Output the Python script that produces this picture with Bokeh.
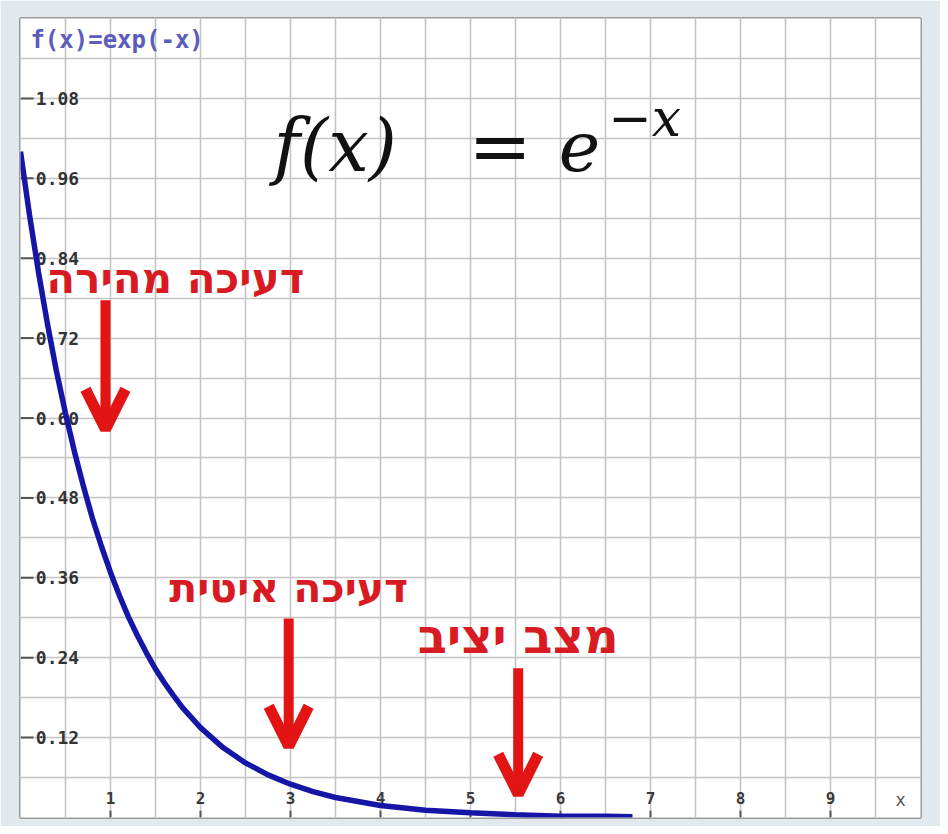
from bokeh.plotting import figure
from bokeh.models import Arrow, OpenHead, FixedTicker, BoxAnnotation, ColumnDataSource
from bokeh.core.properties import value
from bokeh.embed import file_html
from bokeh.resources import INLINE
import numpy as np

# ---- data ----
curve_x = [0.0, 0.1, 0.2, 0.3, 0.4, 0.5, 0.6, 0.7, 0.8, 0.9, 1.0, 1.1, 1.2, 1.3, 1.4,
           1.5, 1.6, 1.7, 1.8, 1.9, 2.0, 2.25, 2.5, 2.75, 3.0, 3.25, 3.5, 3.75, 4.0,
           4.5, 5.0, 5.5, 6.0, 6.5, 6.8]
curve_y = [1.000, 0.905, 0.819, 0.741, 0.670, 0.607, 0.549, 0.497, 0.449, 0.407, 0.368,
           0.333, 0.301, 0.273, 0.247, 0.223, 0.202, 0.183, 0.165, 0.150, 0.135, 0.105,
           0.082, 0.064, 0.050, 0.039, 0.030, 0.024, 0.018, 0.011, 0.007, 0.004, 0.002,
           0.002, 0.001]

x_ticks = [1, 2, 3, 4, 5, 6, 7, 8, 9]
x_tick_labels = ["1", "2", "3", "4", "5", "6", "7", "8", "9"]
y_ticks = [0.12, 0.24, 0.36, 0.48, 0.60, 0.72, 0.84, 0.96, 1.08]
y_tick_labels = ["0.12", "0.24", "0.36", "0.48", "0.60", "0.72", "0.84", "0.96", "1.08"]

title_text = "f(x)=exp(-x)"
annot_texts = ["דעיכה מהירה", "דעיכה איטית", "מצב יציב"]
annot_text_x = [1.72, 2.98, 5.53]
annot_text_y = [0.81, 0.344, 0.273]
annot_sizes = ["42px", "41px", "48px"]
arrow_x = [0.944, 2.98, 5.53]
arrow_y_start = [0.777, 0.299, 0.224]
arrow_y_end = [0.583, 0.107, 0.035]

X_MAX, Y_MAX = 10, 1.2
RED_TEXT = "#d81b22"
RED_ARROW = "#e31414"
BLUE = "#1616a6"
W, H = 940, 826

p = figure(width=W, height=H, x_range=(0, X_MAX), y_range=(0, Y_MAX),
           output_backend="svg", toolbar_location=None,
           min_border_left=20, min_border_top=18, min_border_right=20, min_border_bottom=9)
p.xaxis.visible = False
p.yaxis.visible = False
p.background_fill_color = "white"
p.border_fill_color = "#e2e9ec"
p.outline_line_color = "#9c9c9c"
p.outline_line_width = 3

# white panel behind the chart, with the slide's strips around it
p.add_layout(BoxAnnotation(left=8, right=W + 5, top=8, bottom=H + 5,
                           left_units="canvas", right_units="canvas",
                           top_units="canvas", bottom_units="canvas",
                           fill_color="white", fill_alpha=1, line_color=None, level="image"))
p.add_layout(BoxAnnotation(left=-5, right=8, top=760, bottom=H + 5,
                           left_units="canvas", right_units="canvas",
                           top_units="canvas", bottom_units="canvas",
                           fill_color="#1f5a66", fill_alpha=1, line_color=None, level="underlay"))

p.xgrid.ticker = FixedTicker(ticks=list(np.arange(0.5, X_MAX, 0.5)))
p.ygrid.ticker = FixedTicker(ticks=list(np.round(np.arange(0.06, Y_MAX, 0.06), 2)))
for g in (p.xgrid, p.ygrid):
    g.grid_line_color = "#c4c4c4"
    g.grid_line_width = 1.6

# tick marks
yt_len = 0.145
p.segment(x0=[0] * len(y_ticks), x1=[yt_len] * len(y_ticks), y0=y_ticks, y1=y_ticks,
          line_color="#555555", line_width=2)
xt_len = 0.01
p.segment(x0=x_ticks, x1=x_ticks, y0=[0] * len(x_ticks), y1=[xt_len] * len(x_ticks),
          line_color="#555555", line_width=2)

# tick labels
p.text(x=[0.17] * len(y_ticks), y=y_ticks, text=y_tick_labels,
       text_font=value("DejaVu Sans Mono"), text_font_style="bold",
       text_font_size="18px", text_color="#333333",
       text_align="left", text_baseline="middle")
p.text(x=x_ticks, y=[0.029] * len(x_ticks), text=x_tick_labels,
       text_font=value("DejaVu Sans Mono"), text_font_style="bold",
       text_font_size="16px", text_color="#3a3a3a",
       text_align="center", text_baseline="middle")
p.text(x=[9.78], y=[0.027], text=["x"],
       text_font=value("DejaVu Sans Mono"), text_font_size="17px", text_color="#555555",
       text_align="center", text_baseline="middle")

# title inside plot
p.text(x=[0.11], y=[1.167], text=[title_text],
       text_font=value("DejaVu Sans Mono"), text_font_style="bold",
       text_font_size="24px", text_color="#5c5cbc",
       text_align="left", text_baseline="middle")

# curve
p.line(curve_x, curve_y, line_color=BLUE, line_width=5.5)

# formula
serif = value("DejaVu Serif")
p.text(x=[2.81], y=[1.009], text=["f(x)"], text_font=serif, text_font_style="italic",
       text_font_size="72px", text_color="#111111", text_align="left", text_baseline="alphabetic")
p.text(x=[5.33], y=[1.009], text=["="], text_font=serif,
       text_font_size="76px", text_color="#111111", text_align="center", text_baseline="alphabetic")
p.text(x=[5.98], y=[1.009], text=["e"], text_font=serif, text_font_style="italic",
       text_font_size="70px", text_color="#111111", text_align="left", text_baseline="alphabetic")
p.text(x=[6.53], y=[1.051], text=["−x"], text_font=serif, text_font_style="italic",
       text_font_size="52px", text_color="#111111", text_align="left", text_baseline="alphabetic")

# annotations
annot_src = ColumnDataSource(dict(x=annot_text_x, y=annot_text_y, text=annot_texts,
                                  size=annot_sizes))
p.text(x="x", y="y", text="text", source=annot_src,
       text_font=value("DejaVu Sans"), text_font_style="bold",
       text_font_size="size", text_color=RED_TEXT,
       text_align="center", text_baseline="middle")
for xa, ys, ye in zip(arrow_x, arrow_y_start, arrow_y_end):
    p.add_layout(Arrow(end=OpenHead(size=40, line_color=RED_ARROW, line_width=11),
                       x_start=xa, y_start=ys, x_end=xa, y_end=ye,
                       line_color=RED_ARROW, line_width=10))

open("out.html", "w").write(file_html(p, INLINE))
